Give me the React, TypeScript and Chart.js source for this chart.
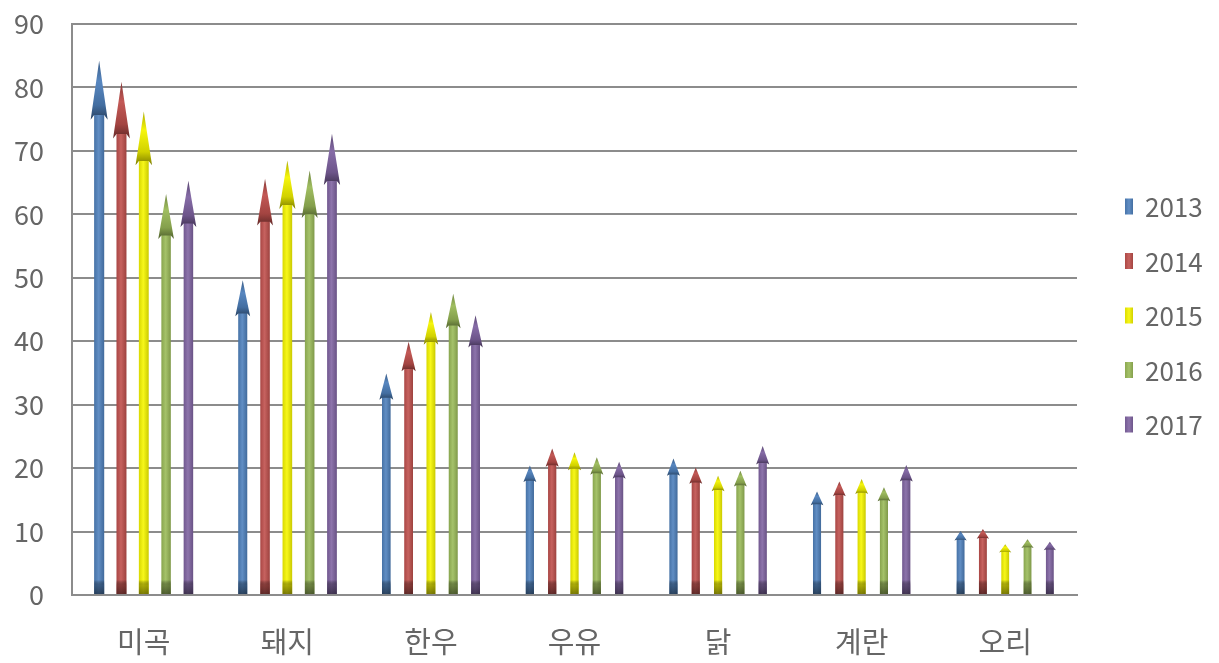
import React, { useEffect, useRef } from "react";
import { Chart, registerables } from "chart.js";

Chart.register(...registerables);

const categories = ["미곡", "돼지", "한우", "우유", "닭", "계란", "오리"];
const years = ["2013", "2014", "2015", "2016", "2017"];
const v2013 = [84.2, 49.6, 34.9, 20.4, 21.5, 16.3, 10.1];
const v2014 = [80.9, 65.6, 39.9, 23.1, 20.1, 17.9, 10.4];
const v2015 = [76.2, 68.5, 44.6, 22.5, 18.8, 18.3, 8.0];
const v2016 = [63.2, 66.9, 47.5, 21.7, 19.6, 17.0, 8.8];
const v2017 = [65.3, 72.7, 44.1, 21.0, 23.5, 20.5, 8.4];
const seriesValues = [v2013, v2014, v2015, v2016, v2017];
const colors = ["#4f81bd", "#c0504d", "#f6f600", "#9bbb59", "#8064a2"];
const yTicks = [0, 10, 20, 30, 40, 50, 60, 70, 80, 90];

const FONT = "'Noto Sans CJK KR', 'Noto Sans', sans-serif";
const TEXT = "#666666";
const GRID = "#8c8c8c";

function shade(hex: string, f: number): string {
  const n = parseInt(hex.slice(1), 16);
  const r = (n >> 16) & 255, g = (n >> 8) & 255, b = n & 255;
  const m = (c: number) => Math.round(f < 0 ? c * (1 + f) : c + (255 - c) * f);
  return `rgb(${m(r)},${m(g)},${m(b)})`;
}

const arrowPlugin = {
  id: "arrows",
  beforeDatasetsDraw(chart: any) {
    const ctx = chart.ctx;
    const areaH = chart.chartArea.bottom - chart.chartArea.top;
    chart.data.datasets.forEach((ds: any, di: number) => {
      const meta = chart.getDatasetMeta(di);
      const col = colors[di];
      meta.data.forEach((el: any) => {
        const x = el.x, tip = el.y, base = el.base, w = el.width;
        const len = base - tip;
        if (len <= 0) return;
        const r = len / areaH;
        const shaftW = w * (0.85 + 0.3 * r);
        const headW = w * (1.3 + 0.65 * r);
        const headLen = 3 + 0.105 * len;
        const hb = tip + headLen;
        const notch = hb - headLen * 0.08;
        ctx.save();
        const g = ctx.createLinearGradient(x - shaftW / 2, 0, x + shaftW / 2, 0);
        g.addColorStop(0, shade(col, -0.12));
        g.addColorStop(0.45, shade(col, 0.1));
        g.addColorStop(1, shade(col, -0.18));
        ctx.fillStyle = g;
        ctx.fillRect(x - shaftW / 2, notch - 1, shaftW, base - notch + 1);
        const gb = ctx.createLinearGradient(0, base, 0, base - 14);
        gb.addColorStop(0, shade(col, -0.7));
        gb.addColorStop(0.6, shade(col, -0.45));
        gb.addColorStop(1, "rgba(0,0,0,0)");
        ctx.fillStyle = gb;
        ctx.globalAlpha = 0.7;
        ctx.fillRect(x - shaftW / 2, Math.max(hb, base - 14), shaftW, Math.min(14, base - hb));
        ctx.globalAlpha = 1;
        const gh = ctx.createLinearGradient(0, tip, 0, hb);
        gh.addColorStop(0, shade(col, -0.3));
        gh.addColorStop(0.35, shade(col, 0.05));
        gh.addColorStop(0.75, shade(col, -0.15));
        gh.addColorStop(1, shade(col, -0.5));
        ctx.fillStyle = gh;
        ctx.beginPath();
        ctx.moveTo(x, tip);
        ctx.lineTo(x + headW / 2, hb);
        ctx.lineTo(x + shaftW / 2, notch);
        ctx.lineTo(x - shaftW / 2, notch);
        ctx.lineTo(x - headW / 2, hb);
        ctx.closePath();
        ctx.fill();
        ctx.restore();
      });
    });
    return false;
  },
};

const legendPlugin = {
  id: "sideLegend",
  afterDraw(chart: any) {
    const ctx = chart.ctx;
    const area = chart.chartArea;
    const cy = (area.top + area.bottom) / 2 + 6;
    const step = 54.5;
    const n = chart.data.datasets.length;
    ctx.save();
    ctx.font = `26px ${FONT}`;
    ctx.textBaseline = "middle";
    ctx.textAlign = "left";
    chart.data.datasets.forEach((ds: any, i: number) => {
      const y = cy + (i - (n - 1) / 2) * step;
      const bx = area.right + 48;
      const g = ctx.createLinearGradient(bx, 0, bx + 8, 0);
      g.addColorStop(0, shade(colors[i], -0.1));
      g.addColorStop(0.5, shade(colors[i], 0.1));
      g.addColorStop(1, shade(colors[i], -0.15));
      ctx.fillStyle = g;
      ctx.fillRect(bx, y - 8, 8, 16);
      ctx.fillStyle = TEXT;
      ctx.fillText(ds.label, bx + 20, y + 1);
    });
    ctx.restore();
  },
};

export default function App() {
  const ref = useRef<HTMLCanvasElement | null>(null);
  useEffect(() => {
    document.body.style.margin = "0";
    const canvas = ref.current!;
    const chart = new Chart(canvas, {
      type: "bar",
      data: {
        labels: categories,
        datasets: years.map((y, i) => ({
          label: y,
          data: seriesValues[i],
          backgroundColor: colors[i],
          categoryPercentage: 0.777,
          barPercentage: 0.4,
        })),
      },
      options: {
        responsive: false,
        animation: false,
        layout: { padding: { left: 0, right: 142, top: 24, bottom: 0 } },
        plugins: {
          legend: { display: false },
          tooltip: { enabled: false },
        },
        scales: {
          x: {
            grid: { display: false, drawTicks: false },
            border: { display: true, color: GRID, width: 2 },
            ticks: {
              font: { family: FONT, size: 29 },
              color: TEXT,
              padding: 30,
            },
            afterFit: (s: any) => {
              s.height = 68;
            },
          },
          y: {
            min: 0,
            max: 90,
            afterBuildTicks: (s: any) => {
              s.ticks = yTicks.map((v) => ({ value: v }));
            },
            grid: { color: GRID, lineWidth: 2, drawTicks: false },
            border: { display: true, color: GRID, width: 2 },
            ticks: {
              font: { family: FONT, size: 27 },
              color: TEXT,
              padding: 28,
            },
            afterFit: (s: any) => {
              s.width = 72;
              s.paddingTop = 0;
              s.paddingBottom = 0;
            },
          },
        },
      },
      plugins: [arrowPlugin, legendPlugin],
    });
    return () => chart.destroy();
  }, []);
  return <canvas ref={ref} width={1219} height={663} style={{ display: "block" }} />;
}
